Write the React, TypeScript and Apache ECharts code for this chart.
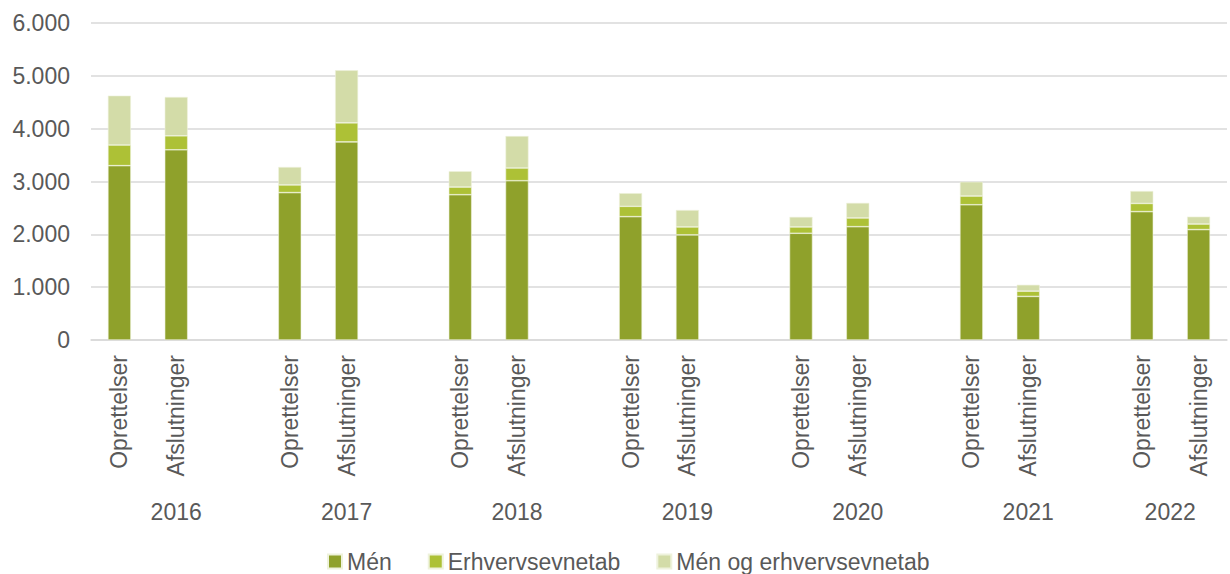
import React, { useEffect, useRef } from "react";
import * as echarts from "echarts";

const years = ["2016", "2017", "2018", "2019", "2020", "2021", "2022"];
const subCategories = ["Oprettelser", "Afslutninger"];

// Values per bar (Oprettelser, Afslutninger per year)
const menValues = [3300, 3600, 2790, 3750, 2750, 3015, 2335, 1990, 2020, 2145, 2560, 825, 2430, 2090];
const erhvValues = [390, 265, 145, 360, 145, 240, 195, 150, 120, 165, 165, 100, 155, 105];
const bothValues = [935, 735, 340, 995, 300, 605, 250, 320, 190, 285, 270, 120, 235, 140];

const yTicks = [0, 1000, 2000, 3000, 4000, 5000, 6000];
const seriesNames = ["Mén", "Erhvervsevnetab", "Mén og erhvervsevnetab"];
const seriesColors = ["#8FA12B", "#ADC136", "#D3DCA8"];

// Build category list with blank spacer between years
const categories: string[] = [];
const indexMap: number[] = []; // category index -> value index or -1
years.forEach((y, yi) => {
  subCategories.forEach((s, si) => {
    categories.push(s);
    indexMap.push(yi * 2 + si);
  });
  if (yi < years.length - 1) {
    categories.push("");
    indexMap.push(-1);
  }
});

// Year label positions measured in category units along the axis
const yearPositions: number[] = [];
years.forEach((y, yi) => {
  if (yi < years.length - 1) yearPositions.push(yi * 3 + 1.5);
  else yearPositions.push(yi * 3 + 1);
});

const expand = (vals: number[]) => indexMap.map((i) => (i < 0 ? null : vals[i]));

const fmt = (v: number) => String(Math.round(v)).replace(/\B(?=(\d{3})+(?!\d))/g, ".");

const FONT = "'Liberation Sans', Arial, sans-serif";
const TXT = "#595959";

export default function App() {
  const ref = useRef<HTMLDivElement>(null);
  useEffect(() => {
    if (!ref.current) return;
    const chart = echarts.init(ref.current, null, { renderer: "svg" });
    const seriesData = [menValues, erhvValues, bothValues];
    chart.setOption({
      animation: false,
      textStyle: { fontFamily: FONT },
      grid: { left: 91, right: -5, top: 23, bottom: 234 },
      legend: {
        data: seriesNames,
        left: 327,
        top: 550,
        padding: 0,
        itemWidth: 14,
        itemHeight: 14,
        itemGap: 36,
        icon: "rect",
        textStyle: { fontSize: 23, color: TXT, fontFamily: FONT },
      },
      xAxis: [
        {
          type: "category",
          data: categories,
          axisLine: { show: true, lineStyle: { color: "#D9D9D9", width: 1.5 } },
          axisTick: { show: false },
          axisLabel: {
            interval: 0,
            rotate: 90,
            margin: 15,
            fontSize: 23,
            color: TXT,
            fontFamily: FONT,
          },
        },
        {
          type: "value",
          min: 0,
          max: categories.length,
          interval: 0.5,
          position: "bottom",
          axisLine: { show: false },
          axisTick: { show: false },
          splitLine: { show: false },
          axisLabel: {
            margin: 160,
            fontSize: 23,
            color: TXT,
            fontFamily: FONT,
            showMinLabel: true,
            showMaxLabel: true,
            formatter: (v: number) => {
              const i = yearPositions.findIndex((p) => Math.abs(p - v) < 1e-6);
              return i >= 0 ? years[i] : "";
            },
          },
        },
      ],
      yAxis: {
        type: "value",
        min: yTicks[0],
        max: yTicks[yTicks.length - 1],
        interval: 1000,
        axisLine: { show: false },
        axisTick: { show: false },
        splitLine: { lineStyle: { color: "#D9D9D9", width: 1.5 } },
        axisLabel: {
          margin: 21,
          fontSize: 23,
          color: TXT,
          fontFamily: FONT,
          formatter: (v: number) => fmt(v),
        },
      },
      series: seriesNames.map((name, i) => ({
        name,
        type: "bar",
        stack: "total",
        xAxisIndex: 0,
        barWidth: 23,
        data: expand(seriesData[i]),
        itemStyle: { color: seriesColors[i], borderColor: "#EEF2DC", borderWidth: 0.6 },
      })),
    });
    return () => chart.dispose();
  }, []);
  return (
    <div
      ref={ref}
      style={{ position: "fixed", left: 0, top: 0, width: 1230, height: 574, background: "#fff" }}
    />
  );
}
